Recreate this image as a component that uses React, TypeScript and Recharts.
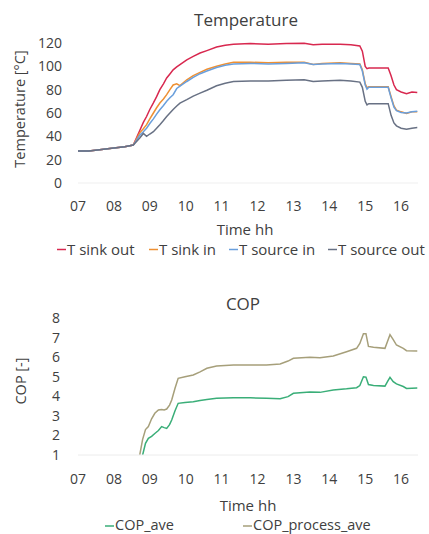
import React from 'react';
import { LineChart, Line, XAxis, YAxis } from 'recharts';

// ---------- Temperature data ----------
const tempTimes = [7.0, 7.3, 7.6, 8.0, 8.3, 8.54, 8.72, 8.82, 8.91, 9.0, 9.1, 9.19, 9.28, 9.38, 9.47, 9.56, 9.65, 9.75, 9.84, 10.03, 10.21, 10.4, 10.59, 10.86, 11.1, 11.33, 11.8, 12.3, 12.8, 13.3, 13.55, 13.8, 14.3, 14.6, 14.85, 14.92, 15.0, 15.05, 15.1, 15.3, 15.64, 15.72, 15.8, 15.87, 16.0, 16.15, 16.3, 16.45];
const tSinkOut = [27.5, 27.5, 28.5, 30, 31, 32.5, 45, 52, 57, 63, 68.6, 74, 80, 85, 90, 93.5, 97, 99.5, 101.5, 105.5, 108.5, 111.4, 113.5, 116.5, 118, 119, 119.5, 119, 119.5, 119.8, 118.5, 119, 119, 118.5, 117.5, 113, 100, 98, 98.5, 98.5, 98.5, 92, 84, 80, 78, 76.5, 78, 77.5];
const tSinkIn = [27.5, 27.5, 28.5, 30, 31, 32.5, 43, 46.5, 50, 55, 60, 64.5, 68.6, 72, 75.7, 80, 84, 85, 83.5, 88.5, 92, 94.8, 97.5, 100, 102, 103.4, 103.5, 103, 103.5, 103.5, 101.5, 102.5, 103, 102.5, 102, 97, 85, 81.5, 82.5, 82.5, 82.5, 74, 66, 62.5, 61, 59.5, 61, 61];
const tSourceIn = [27.5, 27.5, 28.5, 30, 31, 32.5, 41, 44, 47, 51, 55, 59, 62.8, 66.5, 70, 73, 75.7, 81, 83, 87, 90.5, 93.7, 96, 99, 101, 102, 102.5, 102, 102.5, 103, 101.5, 102, 102.5, 102, 101.5, 96, 84, 80.5, 82, 82, 82, 73, 65, 62, 60.5, 60, 61, 61.5];
const tSourceOut = [27.5, 27.5, 28.5, 30, 31, 32.5, 38.6, 42.5, 40, 42, 44, 47, 50, 53.5, 57, 60, 63, 66, 68.5, 71.4, 74.5, 77, 79.5, 83.4, 85.5, 87, 87.5, 87.5, 88, 88.5, 87, 87.5, 88, 87.5, 86.5, 82, 70, 67, 68, 68, 68, 58, 51.5, 49, 47, 46, 47, 47.5];

// ---------- COP data ----------
const copTimes = [8.6, 8.72, 8.8, 8.88, 8.96, 9.05, 9.14, 9.24, 9.33, 9.4, 9.47, 9.55, 9.61, 9.7, 9.79, 9.98, 10.21, 10.4, 10.59, 10.86, 11.33, 11.8, 12.25, 12.63, 12.85, 13.0, 13.46, 13.74, 14.11, 14.48, 14.76, 14.85, 14.95, 15.02, 15.09, 15.23, 15.55, 15.62, 15.69, 15.78, 15.87, 16.06, 16.15, 16.45];
const copAve = [0.3, 0.6, 1.0, 1.6, 1.85, 1.95, 2.1, 2.25, 2.45, 2.4, 2.36, 2.55, 2.79, 3.25, 3.64, 3.68, 3.72, 3.78, 3.83, 3.9, 3.93, 3.92, 3.9, 3.87, 3.98, 4.15, 4.22, 4.2, 4.32, 4.38, 4.44, 4.55, 5.0, 4.98, 4.6, 4.55, 4.52, 4.75, 4.97, 4.75, 4.63, 4.5, 4.4, 4.42];
const copProcessAve = [0.4, 1.0, 1.8, 2.3, 2.45, 2.85, 3.13, 3.3, 3.33, 3.3, 3.35, 3.55, 3.81, 4.4, 4.92, 5.0, 5.09, 5.25, 5.43, 5.55, 5.6, 5.6, 5.6, 5.65, 5.8, 5.94, 6.0, 5.97, 6.06, 6.28, 6.45, 6.7, 7.2, 7.2, 6.55, 6.5, 6.45, 6.8, 7.15, 6.9, 6.62, 6.45, 6.33, 6.32];

// ---------- axes ----------
const hourTicks = [7, 8, 9, 10, 11, 12, 13, 14, 15, 16];
const tempTicks = [0, 20, 40, 60, 80, 100, 120];
const copTicks = [1, 2, 3, 4, 5, 6, 7, 8];

const tempSeries = [
  { key: 'sinkOut', name: 'T sink out', values: tSinkOut, color: '#d8284f' },
  { key: 'sinkIn', name: 'T sink in', values: tSinkIn, color: '#ee9033' },
  { key: 'sourceIn', name: 'T source in', values: tSourceIn, color: '#6a9fdc' },
  { key: 'sourceOut', name: 'T source out', values: tSourceOut, color: '#687184' },
];
const copSeries = [
  { key: 'ave', name: 'COP_ave', values: copAve, color: '#3aae78' },
  { key: 'proc', name: 'COP_process_ave', values: copProcessAve, color: '#a69f7a' },
];

const tempData = tempTimes.map((t, i) => {
  const row: any = { t };
  tempSeries.forEach((s) => (row[s.key] = s.values[i]));
  return row;
});
const copData = copTimes.map((t, i) => {
  const row: any = { t };
  copSeries.forEach((s) => (row[s.key] = s.values[i]));
  return row;
});

const FONT = '"Open Sans", sans-serif';
const TXT = '#404040';
const fmtHour = (v: number) => String(v).padStart(2, '0');

const tempLegendX = [57, 149, 229, 328];
const copLegendX = [105, 243];

export default function App() {
  const tick = { fill: TXT, fontSize: 14, fontFamily: FONT };
  return (
    <div style={{ position: 'absolute', left: 0, top: 0, width: 429, height: 534, background: '#fff' }}>
      <div style={{ position: 'absolute', left: 0, top: 0 }}>
        <LineChart width={429} height={270} data={tempData} margin={{ top: 43, right: 11, bottom: 0, left: 0 }}>
          <XAxis
            dataKey="t"
            type="number"
            domain={[7, 16.47]}
            ticks={hourTicks}
            interval={0}
            tickFormatter={fmtHour}
            height={87}
            tickSize={0}
            tickLine={false}
            tickMargin={18}
            axisLine={{ stroke: '#efefef' }}
            tick={tick}
            allowDataOverflow
          />
          <YAxis
            domain={[0, 120]}
            ticks={tempTicks}
            interval={0}
            width={78}
            tickSize={0}
            tickLine={false}
            tickMargin={16}
            axisLine={false}
            tick={tick}
          />
          {tempSeries.map((s) => (
            <Line key={s.key} dataKey={s.key} name={s.name} stroke={s.color} strokeWidth={1.5} dot={false} isAnimationActive={false} type="linear" />
          ))}
        </LineChart>
      </div>
      <div style={{ position: 'absolute', left: 0, top: 290 }}>
        <LineChart width={429} height={244} data={copData} margin={{ top: 28, right: 11, bottom: 0, left: 0 }}>
          <XAxis
            dataKey="t"
            type="number"
            domain={[7, 16.47]}
            ticks={hourTicks}
            interval={0}
            tickFormatter={fmtHour}
            height={79}
            tickSize={0}
            tickLine={false}
            tickMargin={19}
            axisLine={{ stroke: '#ececec' }}
            tick={tick}
            allowDataOverflow
          />
          <YAxis
            domain={[1, 8]}
            ticks={copTicks}
            interval={0}
            width={78}
            tickSize={0}
            tickLine={false}
            tickMargin={18}
            axisLine={false}
            tick={tick}
            allowDataOverflow
          />
          {copSeries.map((s) => (
            <Line key={s.key} dataKey={s.key} name={s.name} stroke={s.color} strokeWidth={1.5} dot={false} isAnimationActive={false} type="linear" />
          ))}
        </LineChart>
      </div>
      <svg width={429} height={534} style={{ position: 'absolute', left: 0, top: 0, pointerEvents: 'none' }} fontFamily={FONT}>
        <text x={246} y={26} textAnchor="middle" fontSize={17} fill={TXT}>Temperature</text>
        <text transform="translate(25,109) rotate(-90)" textAnchor="middle" fontSize={14.5} fill={TXT}>Temperature [°C]</text>
        <text x={245} y={235} textAnchor="middle" fontSize={15} fill={TXT}>Time hh</text>
        {tempSeries.map((s, i) => (
          <g key={s.key}>
            <line x1={tempLegendX[i]} x2={tempLegendX[i] + 9} y1={249.5} y2={249.5} stroke={s.color} strokeWidth={1.5} />
            <text x={tempLegendX[i] + 10} y={255} fontSize={15} fill={TXT}>{s.name}</text>
          </g>
        ))}
        <text x={243} y={310} textAnchor="middle" fontSize={17} fill={TXT}>COP</text>
        <text transform="translate(26,381) rotate(-90)" textAnchor="middle" fontSize={14.5} fill={TXT}>COP [-]</text>
        <text x={248} y={510.5} textAnchor="middle" fontSize={15} fill={TXT}>Time hh</text>
        {copSeries.map((s, i) => (
          <g key={s.key}>
            <line x1={copLegendX[i]} x2={copLegendX[i] + 9} y1={526} y2={526} stroke={s.color} strokeWidth={1.5} />
            <text x={copLegendX[i] + 10} y={530} fontSize={14.5} fill={TXT}>{s.name}</text>
          </g>
        ))}
      </svg>
    </div>
  );
}
